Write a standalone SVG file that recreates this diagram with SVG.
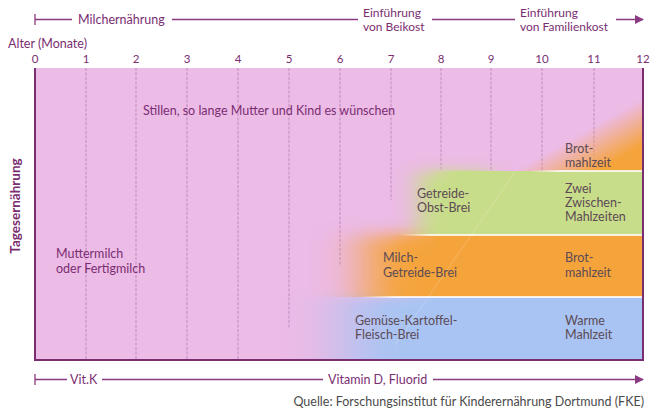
<svg xmlns="http://www.w3.org/2000/svg" width="651" height="417" viewBox="0 0 651 417">
<style>
.t{font-family:Lato,"Liberation Sans",sans-serif;font-size:12.5px;}
.p{fill:#7a2e72;}
.g{fill:#5c4a55;}
.ax{stroke:#8a3a82;stroke-width:1.3;fill:none;}
.grid{stroke:#b27aaa;stroke-width:0.7;stroke-dasharray:3 1.5;fill:none;}
.or{fill:#f5a43c;}
.gr{fill:#c8dd8a;}
.bl{fill:#a9c4f2;}
</style>
<defs>
<marker id="arr" viewBox="0 0 10 10" refX="9" refY="5" markerWidth="9" markerHeight="9" orient="auto" markerUnits="userSpaceOnUse">
<path d="M0,0 L10,5 L0,10 z" fill="#8a3a82"/>
</marker>
<filter id="fBl" filterUnits="userSpaceOnUse" x="0" y="0" width="700" height="417"><feGaussianBlur stdDeviation="30 6"/></filter>
<filter id="fOr" filterUnits="userSpaceOnUse" x="0" y="0" width="700" height="417"><feGaussianBlur stdDeviation="24 8"/></filter>
<filter id="fGr" filterUnits="userSpaceOnUse" x="0" y="0" width="700" height="417"><feGaussianBlur stdDeviation="12 7"/></filter>
<linearGradient id="rBl" gradientUnits="userSpaceOnUse" x1="375" y1="0" x2="435" y2="0"><stop offset="0" stop-color="#fff" stop-opacity="0"/><stop offset="1" stop-color="#fff"/></linearGradient>
<linearGradient id="rOr" gradientUnits="userSpaceOnUse" x1="389" y1="0" x2="437" y2="0"><stop offset="0" stop-color="#fff" stop-opacity="0"/><stop offset="1" stop-color="#fff"/></linearGradient>
<linearGradient id="rGr" gradientUnits="userSpaceOnUse" x1="430" y1="0" x2="454" y2="0"><stop offset="0" stop-color="#fff" stop-opacity="0"/><stop offset="1" stop-color="#fff"/></linearGradient>
<mask id="mBl" maskUnits="userSpaceOnUse" x="0" y="0" width="700" height="417">
<rect x="345" y="297" width="180" height="110" fill="#fff" filter="url(#fBl)"/>
<rect x="375" y="297" width="300" height="110" fill="url(#rBl)"/>
</mask>
<mask id="mOr" maskUnits="userSpaceOnUse" x="0" y="0" width="700" height="417">
<rect x="365" y="235" width="144" height="100" fill="#fff" filter="url(#fOr)"/>
<rect x="389" y="235" width="300" height="100" fill="url(#rOr)"/>
</mask>
<mask id="mGr" maskUnits="userSpaceOnUse" x="0" y="0" width="700" height="417">
<rect x="418" y="171" width="72" height="100" fill="#fff" filter="url(#fGr)"/>
<rect x="430" y="171" width="250" height="100" fill="url(#rGr)"/>
</mask>
<linearGradient id="gTop" gradientUnits="userSpaceOnUse" x1="596" y1="125" x2="616" y2="160">
<stop offset="0" stop-color="#f5a43c" stop-opacity="0"/>
<stop offset="1" stop-color="#f5a43c" stop-opacity="1"/>
</linearGradient>
<linearGradient id="sep1" gradientUnits="userSpaceOnUse" x1="530" y1="0" x2="560" y2="0"><stop offset="0" stop-color="#fff" stop-opacity="0"/><stop offset="1" stop-color="#fff"/></linearGradient>
<linearGradient id="sep2" gradientUnits="userSpaceOnUse" x1="400" y1="0" x2="430" y2="0"><stop offset="0" stop-color="#fff" stop-opacity="0"/><stop offset="1" stop-color="#fff"/></linearGradient>
<linearGradient id="sep3" gradientUnits="userSpaceOnUse" x1="360" y1="0" x2="395" y2="0"><stop offset="0" stop-color="#fff" stop-opacity="0"/><stop offset="1" stop-color="#fff"/></linearGradient>
</defs>

<g id="chart">
<rect x="35" y="68" width="608" height="292" fill="#ecbbe6"/>
<path class="grid" d="M86,68V360 M136,68V360 M187,68V360 M238,68V360 M289,68V328 M340,68V265 M391,68V200 M441,68V171 M491,68V171 M542,68V171 M594,68V171"/>
<rect class="bl" x="35" y="272" width="608" height="88" mask="url(#mBl)"/>
<rect class="or" x="35" y="210" width="608" height="87" mask="url(#mOr)"/>
<rect class="gr" x="35" y="150" width="608" height="85" mask="url(#mGr)"/>
<rect x="500" y="80" width="143" height="91" fill="url(#gTop)"/>
<rect x="530" y="170.2" width="113" height="1.6" fill="url(#sep1)"/>
<rect x="400" y="234.2" width="243" height="1.6" fill="url(#sep2)"/>
<rect x="360" y="296.2" width="283" height="1.6" fill="url(#sep3)"/>
<path d="M515,172 L395,345" stroke="#ffffff" stroke-opacity="0.2" stroke-width="1"/>
<path d="M35,68V360H643V68" stroke="#7a2e72" stroke-width="2" fill="none"/>
</g>

<g id="connectors">
<path class="ax" d="M35,14V25 M35,19.5H72 M172,19.5H358 M432,19.5H515 M616,19.5H643" marker-end="url(#arr)"/>
<path class="ax" d="M35,374V385 M35,379.5H67 M102,379.5H323 M433,379.5H643" marker-end="url(#arr)"/>
</g>

<g id="top-labels" class="t p">
<text x="78" y="24">Milchernährung</text>
<text x="363" y="16.5" style="font-size:12px">Einführung</text>
<text x="363" y="30.5" style="font-size:12px">von Beikost</text>
<text x="520" y="16.5" style="font-size:12px">Einführung</text>
<text x="520" y="30.5" style="font-size:12px">von Familienkost</text>
<text x="8" y="48">Alter (Monate)</text>
</g>

<g id="months" class="t p" text-anchor="middle" style="font-size:11.5px">
<text x="35" y="63">0</text><text x="86" y="63">1</text><text x="136" y="63">2</text><text x="187" y="63">3</text>
<text x="238" y="63">4</text><text x="289" y="63">5</text><text x="340" y="63">6</text><text x="391" y="63">7</text>
<text x="441" y="63">8</text><text x="491" y="63">9</text><text x="542" y="63">10</text><text x="594" y="63">11</text>
<text x="643" y="63">12</text>
</g>

<g id="axis-y">
<text class="t p" transform="translate(20,206) rotate(-90)" text-anchor="middle" style="font-weight:bold;font-size:13.5px">Tagesernährung</text>
</g>

<g id="stillen"><text class="t p" x="143" y="115">Stillen, so lange Mutter und Kind es wünschen</text></g>
<g id="muttermilch" class="t p"><text x="56" y="258">Muttermilch</text><text x="56" y="273">oder Fertigmilch</text></g>
<g id="brot-top" class="t g"><text x="565" y="153">Brot-</text><text x="565" y="167">mahlzeit</text></g>
<g id="getreide-obst" class="t g"><text x="417" y="198">Getreide-</text><text x="417" y="212">Obst-Brei</text></g>
<g id="zwei" class="t g"><text x="565" y="193">Zwei</text><text x="565" y="207">Zwischen-</text><text x="565" y="221">Mahlzeiten</text></g>
<g id="milch-getreide" class="t g"><text x="383" y="262">Milch-</text><text x="383" y="277">Getreide-Brei</text></g>
<g id="brot-mid" class="t g"><text x="565" y="262">Brot-</text><text x="565" y="277">mahlzeit</text></g>
<g id="gemuese" class="t g"><text x="355" y="325">Gemüse-Kartoffel-</text><text x="355" y="339">Fleisch-Brei</text></g>
<g id="warme" class="t g"><text x="565" y="325">Warme</text><text x="565" y="339">Mahlzeit</text></g>

<g id="bottom-labels" class="t p">
<text x="70" y="384">Vit.K</text>
<text x="328" y="384">Vitamin D, Fluorid</text>
</g>
<g id="source"><text class="t" x="644" y="406" text-anchor="end" fill="#4a4a4a">Quelle: Forschungsinstitut für Kinderernährung Dortmund (FKE)</text></g>
</svg>
